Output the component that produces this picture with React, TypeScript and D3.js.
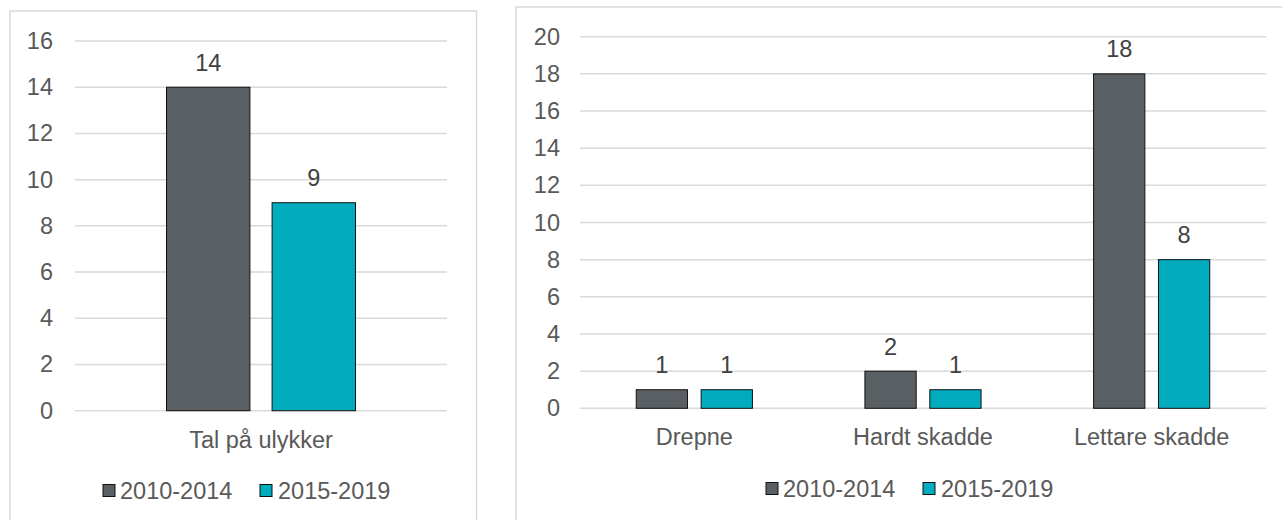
import React from "react";
import * as d3 from "d3";

const series = ["2010-2014", "2015-2019"];
const colors = ["#5a5f63", "#00acbd"];

const leftCategories = ["Tal på ulykker"];
const leftValues2010 = [14];
const leftValues2015 = [9];
const leftTicks = [0, 2, 4, 6, 8, 10, 12, 14, 16];

const rightCategories = ["Drepne", "Hardt skadde", "Lettare skadde"];
const rightValues2010 = [1, 2, 18];
const rightValues2015 = [1, 1, 8];
const rightTicks = [0, 2, 4, 6, 8, 10, 12, 14, 16, 18, 20];

const FONT = "'Liberation Sans', Arial, sans-serif";
const FS = 23.5;
const AXIS_COLOR = "#595959";
const LABEL_COLOR = "#404040";
const GRID = "#d9d9d9";

type PanelProps = {
  categories: string[];
  values: number[][];
  ticks: number[];
  yMax: number;
  box: { x: number; y: number; w: number; h: number };
  plot: { x1: number; x2: number; y0: number; yTop: number };
  tickLabelX: number;
  catLabelY: number;
  legend: { y: number; items: { sq: number; tx: number }[] };
};

function Panel(p: PanelProps) {
  const y = d3.scaleLinear().domain([0, p.yMax]).range([p.plot.y0, p.plot.yTop]);
  const x0 = d3
    .scaleBand<string>()
    .domain(p.categories)
    .range([p.plot.x1, p.plot.x2])
    .paddingInner(0.492)
    .paddingOuter(0.246);
  const x1 = d3
    .scaleBand<string>()
    .domain(series)
    .range([0, x0.bandwidth()])
    .paddingInner(0.21)
    .paddingOuter(0);
  return (
    <g>
      <rect
        x={p.box.x}
        y={p.box.y}
        width={p.box.w}
        height={p.box.h}
        fill="#fff"
        stroke={GRID}
        strokeWidth={1.5}
      />
      {p.ticks.map((t) => (
        <g key={t}>
          <line
            x1={p.plot.x1}
            x2={p.plot.x2}
            y1={y(t)}
            y2={y(t)}
            stroke={GRID}
            strokeWidth={1.5}
          />
          <text
            x={p.tickLabelX}
            y={y(t)}
            textAnchor="end"
            dominantBaseline="central"
            fontFamily={FONT}
            fontSize={FS}
            fill={AXIS_COLOR}
          >
            {t}
          </text>
        </g>
      ))}
      {p.categories.map((c, ci) => (
        <g key={c}>
          {series.map((s, si) => {
            const v = p.values[si][ci];
            const bx = (x0(c) ?? 0) + (x1(s) ?? 0);
            const bw = x1.bandwidth();
            return (
              <g key={s}>
                <rect
                  x={bx}
                  y={y(v)}
                  width={bw}
                  height={y(0) - y(v)}
                  fill={colors[si]}
                  stroke="#111"
                  strokeWidth={1}
                />
                <text
                  x={bx + bw / 2}
                  y={y(v) - 24.5}
                  textAnchor="middle"
                  dominantBaseline="central"
                  fontFamily={FONT}
                  fontSize={FS}
                  fill={LABEL_COLOR}
                >
                  {v}
                </text>
              </g>
            );
          })}
          <text
            x={(x0(c) ?? 0) + x0.bandwidth() / 2}
            y={p.catLabelY}
            textAnchor="middle"
            dominantBaseline="central"
            fontFamily={FONT}
            fontSize={FS}
            fill={AXIS_COLOR}
          >
            {c}
          </text>
        </g>
      ))}
      {series.map((s, si) => (
        <g key={s}>
          <rect
            x={p.legend.items[si].sq}
            y={p.legend.y - 6}
            width={12}
            height={12}
            fill={colors[si]}
            stroke="#111"
            strokeWidth={1}
          />
          <text
            x={p.legend.items[si].tx}
            y={p.legend.y}
            dominantBaseline="central"
            fontFamily={FONT}
            fontSize={FS}
            fill={AXIS_COLOR}
          >
            {s}
          </text>
        </g>
      ))}
    </g>
  );
}

export default function App() {
  return (
    <svg
      width={1282}
      height={520}
      style={{ position: "absolute", left: 0, top: 0, background: "#fff" }}
    >
      <rect x={0} y={0} width={1282} height={520} fill="#fff" />
      <Panel
        categories={leftCategories}
        values={[leftValues2010, leftValues2015]}
        ticks={leftTicks}
        yMax={16}
        box={{ x: 10, y: 11, w: 466.5, h: 530 }}
        plot={{ x1: 75, x2: 447, y0: 410.7, yTop: 41 }}
        tickLabelX={53}
        catLabelY={440}
        legend={{ y: 490.5, items: [{ sq: 103, tx: 120 }, { sq: 260, tx: 278 }] }}
      />
      <Panel
        categories={rightCategories}
        values={[rightValues2010, rightValues2015]}
        ticks={rightTicks}
        yMax={20}
        box={{ x: 516, y: 7, w: 800, h: 540 }}
        plot={{ x1: 580, x2: 1266, y0: 408.3, yTop: 36.7 }}
        tickLabelX={560}
        catLabelY={437}
        legend={{ y: 488.5, items: [{ sq: 766, tx: 783 }, { sq: 923, tx: 941 }] }}
      />
    </svg>
  );
}
